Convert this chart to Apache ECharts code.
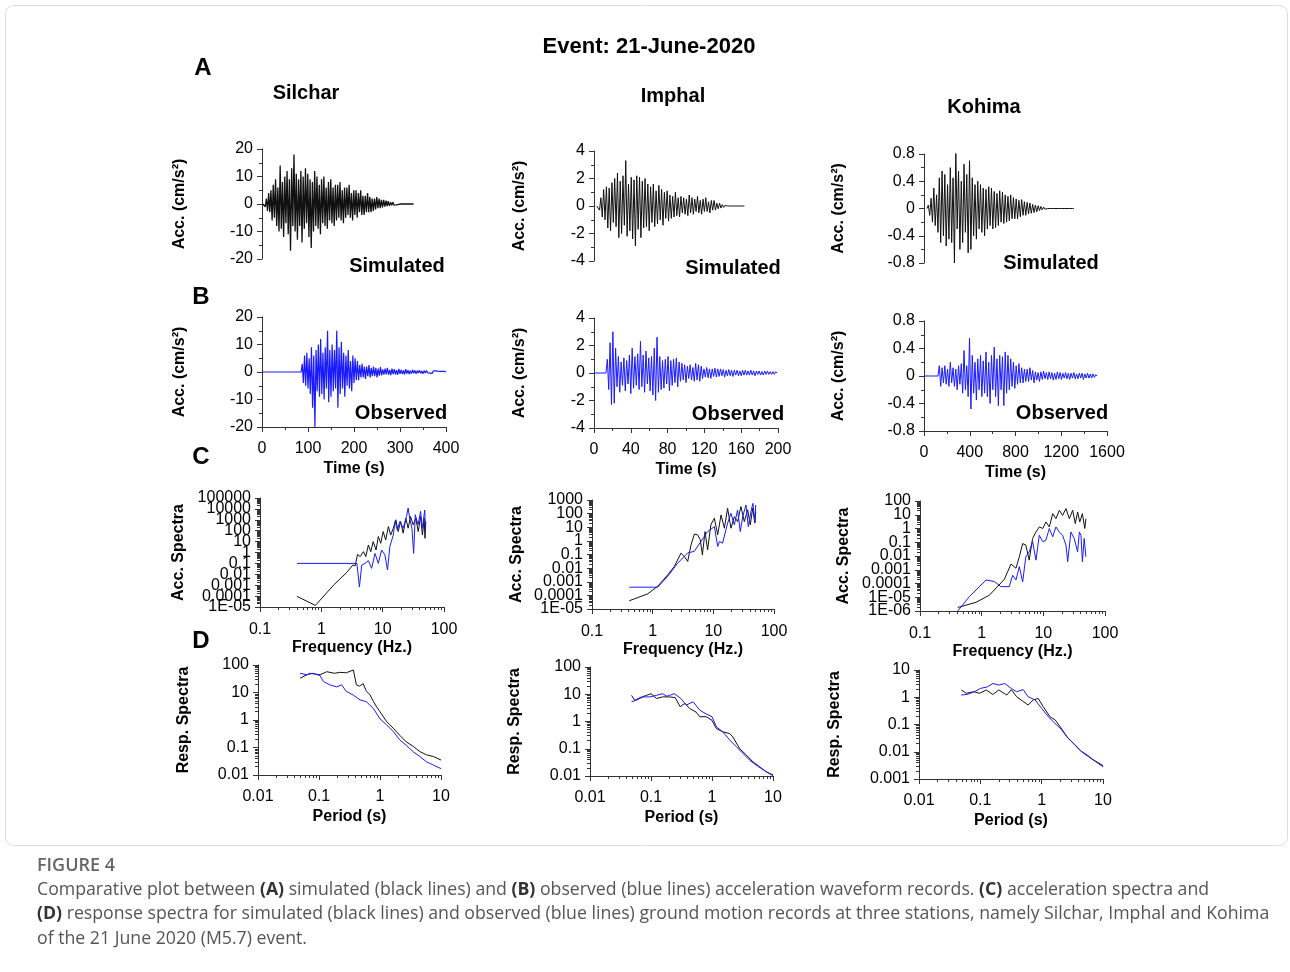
<!DOCTYPE html>
<html>
<head>
<meta charset="utf-8">
<script src="https://cdn.jsdelivr.net/npm/echarts@6/dist/echarts.min.js"></script>
<style>
html, body { margin: 0; padding: 0; background: #fff; }
#chart { width: 1290px; height: 972px; }
</style>
</head>
<body>
<div id="chart"></div>
<script>
var FONT = '"Liberation Sans", Arial, Helvetica, sans-serif';
var CAP_FONT = '"Open Sans", "Noto Sans", sans-serif';
var AXC = '#333';
var SIM = '#111';
var OBS = '#1a1aff';

var stations = ['Silchar', 'Imphal', 'Kohima'];

// ---- waveforms: amplitude (cm/s2) sampled from t0 every dt seconds ----
var silSimT0 = 2, silSimDt = 2.5;
var silSim = [0, 0.5, -1, 2, -2.5, 4, -3, 5,
  -6, 7, -5, 9, -8, 6, -10, 14,
  -9, 8, -12, 10, -7, 12, -11, 9,
  -17, 13, -8, 18, -10, 11, -13, 9,
  -8, 12, -14, 10, -9, 13, -7, 11,
  -12, 9, -16, 8, -10, 12, -8, 10,
  -9, 7, -11, 9, -7, 10, -8, 6,
  -9, 8, -6, 9, -7, 6, -8, 7,
  -6, 7, -5, 8, -6, 5, -7, 6,
  -5, 6, -4, 7, -5, 4, -6, 5,
  -4, 5, -5, 4, -3, 5, -4, 3,
  -4, 3, -3, 4, -3, 2.5, -3, 2,
  -2.5, 2, -2, 2.5, -1.5, 2, -1.5, 1.5,
  -1.2, 1.5, -1, 1.2, -0.8, 1, -0.7, 0.6,
  -0.5, 0.6, -0.4, 0.3, -0.3, 0.2, -0.1, 0.1,
  0, 0, 0, 0, 0, 0, 0, 0, 0, 0, 0, 0];

var imhSimT0 = 3, imhSimDt = 1.5;
var imhSim = [0, 0.1, -0.3, 0.6, -0.8, 1.2, -1, 1.4,
  -1.6, 1.3, -1.8, 1.7, -1.2, 2.0, -1.5, 2.4,
  -2.3, 1.8, -2.0, 2.2, -1.4, 3.3, -2.2, 1.6,
  -1.8, 2.1, -2.4, 1.9, -2.9, 2.2, -1.7, 2.1,
  -2.3, 1.8, -1.6, 2.0, -1.5, 1.6, -1.8, 1.4,
  -1.2, 1.6, -1.5, 1.1, -1.3, 1.5, -1.0, 1.2,
  -1.4, 1.0, -0.9, 1.1, -1.1, 0.8, -0.9, 0.7,
  -0.8, 1.0, -0.7, 0.6, -0.8, 0.7, -0.5, 0.6,
  -0.6, 0.5, -0.7, 0.8, -0.5, 0.6, -0.6, 0.5,
  -0.4, 0.7, -0.5, 0.4, -0.6, 0.5, -0.4, 0.6,
  -0.4, 0.3, -0.5, 0.4, -0.3, 0.4, -0.3, 0.2,
  -0.2, 0.2, -0.15, 0.1, -0.1, 0.05, -0.03, 0,
  0, 0, 0, 0, 0, 0, 0, 0, 0, 0, 0, 0];

var kohSimT0 = 26, kohSimDt = 12;
var kohSim = [0, 0.05, -0.1, 0.15, -0.2, 0.3, -0.25, 0.2,
  -0.35, 0.45, -0.5, 0.55, -0.4, 0.5, -0.55, 0.35,
  -0.45, 0.6, -0.5, 0.45, -0.8, 0.85, -0.3, 0.55,
  -0.6, 0.4, -0.5, 0.65, -0.35, 0.5, -0.65, 0.7,
  -0.6, 0.45, -0.4, 0.35, -0.45, 0.4, -0.3, 0.35,
  -0.35, 0.3, -0.4, 0.28, -0.3, 0.32, -0.25, 0.3,
  -0.3, 0.25, -0.28, 0.22, -0.25, 0.26, -0.2, 0.24,
  -0.22, 0.2, -0.2, 0.18, -0.18, 0.2, -0.15, 0.16,
  -0.15, 0.14, -0.15, 0.12, -0.12, 0.13, -0.1, 0.1,
  -0.1, 0.09, -0.08, 0.08, -0.07, 0.06, -0.06, 0.05,
  -0.05, 0.04, -0.03, 0.03, -0.02, 0.02, -0.01, 0.01,
  0, 0, 0, 0, 0, 0, 0, 0, 0, 0, 0, 0, 0, 0, 0, 0, 0, 0, 0, 0];

// observed records are flat (zero) before the trigger time t0
var silObsT0 = 85, silObsDt = 2.5;
var silObs = [0, 3, -4, 6, -5, 7, -6, 5,
  -8, 9, -13, 6, -20, 8, -7, 10,
  -9, 12, -8, 7, -10, 9, -6, 15,
  -11, 8, -9, 10, -7, 8, -6, 15,
  -13, 9, -8, 11, -6, 7, -9, 6,
  -5, 8, -6, 4, -7, 6, -4, 5,
  -3, 4, -3, 2.5, -2, 3, -2, 2,
  -2.5, 2, -1.5, 2.5, -2, 1.5, -1.5, 2,
  -1.5, 1.5, -2, 1.2, -1.3, 1.8, -1.2, 1,
  -1, 1.2, -0.9, 1.5, -1, 0.8, -1.1, 1.2,
  -0.8, 1, -0.9, 0.7, -1, 1.1, -0.7, 0.8,
  -0.8, 0.6, -0.9, 1, -0.6, 0.7, -0.8, 0.5,
  -0.6, 0.8, -0.5, 0.6, -0.7, 0.5, -0.4, 0.6,
  -0.5, 0.4, -0.6, 0.5, -0.4, 0.5, -0.3, 0.4,
  -0.4, 0.3, -0.5, 0.4, -0.3, 0.4, -0.3, 0.3,
  -0.3, 0.25, -0.3, 0.2, -0.2, 0.2, 0];

var imhObsT0 = 13, imhObsDt = 1.5;
var imhObs = [0, 1, -1.2, 2.2, -2.3, 3, -2.2, 1.8,
  -1, 1.2, -1.4, 0.8, -0.9, 1.1, -1.3, 0.9,
  -0.8, 1.3, -1.5, 1.8, -1.1, 1.2, -0.9, 1.4,
  -1.2, 2.3, -1.0, 1.3, -1.4, 1.6, -0.8, 1.1,
  -1.3, 1.2, -1.6, 1.8, -2.0, 2.6, -1.4, 1.2,
  -1.2, 0.9, -1.1, 1.0, -0.8, 1.2, -1.3, 0.9,
  -0.9, 1.0, -0.7, 1.1, -1.0, 0.8, -0.6, 0.7,
  -0.5, 0.6, -0.7, 0.5, -0.4, 0.6, -0.5, 0.4,
  -0.6, 0.7, -0.5, 0.6, -0.6, 0.5, -0.4, 0.3,
  -0.3, 0.4, -0.35, 0.3, -0.4, 0.3, -0.25, 0.35,
  -0.3, 0.3, -0.25, 0.3, -0.2, 0.25, -0.3, 0.2,
  -0.2, 0.25, -0.2, 0.2, -0.25, 0.2, -0.15, 0.2,
  -0.2, 0.15, -0.2, 0.2, -0.15, 0.2, -0.15, 0.15,
  -0.15, 0.2, -0.15, 0.15, -0.2, 0.15, -0.1, 0.15,
  -0.15, 0.1, -0.15, 0.15, -0.1, 0.15, -0.1, 0.1,
  -0.1, 0.1, -0.1, 0.1, 0];

var kohObsT0 = 122, kohObsDt = 12;
var kohObs = [0, 0.15, -0.15, 0.12, -0.1, 0.15, -0.12, 0.1,
  -0.15, 0.2, -0.1, 0.12, -0.15, 0.1, -0.2, 0.15,
  -0.12, 0.18, -0.25, 0.37, -0.2, 0.15, -0.3, 0.55,
  -0.48, 0.3, -0.25, 0.2, -0.35, 0.25, -0.2, 0.3,
  -0.3, 0.22, -0.25, 0.35, -0.3, 0.2, -0.4, 0.3,
  -0.2, 0.42, -0.3, 0.25, -0.43, 0.3, -0.2, 0.28,
  -0.43, 0.35, -0.25, 0.3, -0.2, 0.25, -0.15, 0.2,
  -0.18, 0.15, -0.12, 0.18, -0.1, 0.12, -0.1, 0.1,
  -0.08, 0.1, -0.08, 0.12, -0.06, 0.08, -0.1, 0.06,
  -0.06, 0.05, -0.08, 0.06, -0.05, 0.07, -0.04, 0.05,
  -0.05, 0.06, -0.04, 0.05, -0.06, 0.04, -0.05, 0.06,
  -0.04, 0.05, -0.05, 0.04, -0.03, 0.05, -0.04, 0.04,
  -0.05, 0.04, -0.03, 0.05, -0.04, 0.03, -0.04, 0.04,
  -0.03, 0.04, -0.05, 0.03, -0.03, 0.04, -0.03, 0.03,
  -0.03, 0.03, -0.02, 0.02, 0];

// ---- Fourier acceleration spectra: [frequency Hz, amplitude] ----
var silSimFas = [[0.4,9.5e-5],[0.8,1.4e-5],[1.58,1e-3],[2.6,0.015],[3.26,0.07],[3.56,0.06],[3.9,0.68],[4.3,0.42],
  [4.86,1.2],[5.3,0.42],[5.85,4.9],[6.4,1.2],[7.0,10],[7.8,1.7],[8.5,29],[9.3,7],[10.2,83],[11.2,14],
  [12.4,240],[13.5,40],[14.9,170],[16.4,1000],[17.9,83],[19.6,700],[21.6,59],[23.9,1400],[26,170],
  [28.5,2000],[31.4,350],[34.7,1400],[38,83],[41.5,2000],[44.5,40],[47.5,1400],[49,20],[50.5,700]];
var silObsFas = [[0.4,0.1],[3.8,0.1],[4.18,7e-4],[4.56,0.07],[5.17,0.1],[5.85,0.18],[6.6,0.035],[7.5,0.83],
  [8.5,0.1],[9.6,1.7],[10.9,0.6],[12,0.025],[13.1,3.5],[14.9,40],[15.9,700],[17.3,120],[19.1,700],
  [21.6,170],[24.5,2000],[26,12000],[27.6,1400],[30,170],[32,0.83],[34,2900],[37.8,350],[41.5,5900],
  [44.5,170],[48.5,8000],[50,80]];
var imhSimFas = [[0.41,4e-5],[0.83,1.3e-4],[1.21,4.6e-4],[1.77,3.2e-3],[2.27,0.013],[2.93,0.126],[3.33,0.07],
  [3.78,0.031],[4.29,0.51],[4.86,3.1],[5.5,2.8],[6.1,1.2],[6.6,0.095],[7.3,4.8],[8.05,0.22],[9.1,15],
  [10.4,46],[11.8,2.8],[13.4,80],[15.2,8.5],[17.2,245],[19.5,8.5],[22.2,60],[25.1,26],[28.5,330],
  [32.4,26],[36.8,190],[40.7,15],[44.5,245],[48.4,20],[50,140]];
var imhObsFas = [[0.41,4e-4],[1.21,4e-4],[1.77,2.5e-3],[2.58,0.023],[3.78,0.13],[4.86,0.17],[6.25,0.9],
  [8.05,4.8],[10.4,11],[11.8,0.39],[12.6,0.9],[14.2,0.68],[17.2,20],[19.5,105],[22.2,15],[25.1,185],
  [27.8,4.8],[30.5,60],[34.5,430],[37.7,11],[41.6,140],[44.9,570],[48.4,26],[50,430]];
var kohSimFas = [[0.41,1.8e-6],[0.81,4.3e-6],[1.33,1.4e-5],[2.33,2e-4],[2.99,2.6e-3],[3.6,1.3e-3],[4.08,8.7e-3],
  [4.62,0.08],[5.2,0.062],[5.9,5e-3],[6.7,0.19],[7.6,0.56],[8.6,1.3],[9.8,1],[11,3],[12.5,1.3],[14.2,12],
  [16,5.2],[18.2,21],[20.5,9],[23.3,28],[26.4,5.2],[29.9,21],[33,2.3],[36,16],[39,3],[43,12],[47,1],[49,5.2]];
var kohObsFas = [[0.41,1e-6],[0.63,1.1e-5],[1.18,1.8e-4],[1.6,1.4e-4],[2.06,5.9e-5],[2.8,5.9e-5],[3.18,4e-4],
  [3.6,1.8e-4],[4.08,1.7e-3],[4.62,1.3e-4],[5.2,8.7e-3],[5.9,0.02],[6.7,0.11],[7.6,5e-3],[8.6,0.32],
  [9.8,0.11],[11,0.14],[12.5,1],[14.2,0.25],[16,1.3],[18.2,0.56],[20.5,0.32],[23.3,0.062],[24.8,3.8e-3],
  [28,0.56],[31.7,0.19],[36,0.02],[38.4,0.56],[40.8,0.32],[43,3.8e-3],[46,0.19],[49,8.7e-3]];

// ---- response spectra: [period s, amplitude] ----
var silSimRsp = [[0.049,33],[0.071,50],[0.104,44],[0.134,57],[0.18,50],[0.22,54],[0.28,52],[0.366,66],
  [0.41,19],[0.46,17],[0.53,21],[0.6,11],[0.68,8.5],[0.78,4.7],[0.88,3],[1,2],[1.29,0.87],[1.65,0.5],
  [2.1,0.28],[2.7,0.16],[3.5,0.11],[4.5,0.071],[5.8,0.054],[7.5,0.047],[10,0.035]];
var silObsRsp = [[0.049,50],[0.063,44],[0.08,50],[0.104,41],[0.118,25],[0.15,19],[0.195,16],[0.235,19],
  [0.28,11],[0.366,8],[0.47,5.4],[0.6,4.6],[0.78,2.6],[1,1.1],[1.29,0.66],[1.65,0.38],[2.1,0.19],
  [2.7,0.12],[3.5,0.07],[4.5,0.047],[5.8,0.03],[7.5,0.023],[10,0.017]];
var imhSimRsp = [[0.048,9.1],[0.054,6],[0.066,7.5],[0.084,9.1],[0.1,10.5],[0.123,7],[0.155,8],[0.2,8],
  [0.25,7.5],[0.3,3.5],[0.36,4.6],[0.43,3],[0.55,2.2],[0.63,1.5],[0.8,1.5],[1,1.1],[1.18,0.55],[1.5,0.42],
  [1.95,0.36],[2.2,0.27],[2.85,0.1],[3.65,0.059],[4.7,0.033],[6,0.022],[7.8,0.014],[10,0.011]];
var imhObsRsp = [[0.048,5.3],[0.057,6],[0.074,8],[0.095,8],[0.123,9.1],[0.155,10.5],[0.18,8.5],[0.2,9],
  [0.24,10.5],[0.31,6.9],[0.38,4],[0.49,5.3],[0.63,2.6],[0.8,1.9],[1,1.5],[1.18,0.63],[1.5,0.42],
  [1.95,0.21],[2.5,0.12],[3.2,0.068],[4.1,0.039],[5.3,0.025],[6.9,0.017],[10,0.0102]];
var kohSimRsp = [[0.049,1.85],[0.059,1.4],[0.078,1.6],[0.097,1.4],[0.125,1.85],[0.16,1.26],[0.2,1.85],
  [0.27,1.2],[0.32,1.9],[0.39,1.05],[0.5,0.7],[0.6,0.52],[0.73,0.8],[0.88,0.9],[1.06,0.45],[1.37,0.19],
  [1.65,0.15],[2,0.083],[2.57,0.036],[3.3,0.02],[4.25,0.011],[5.5,0.0076],[7,0.005],[10,0.0031]];
var kohObsRsp = [[0.049,1.2],[0.063,1.3],[0.08,1.6],[0.1,2.1],[0.13,2.4],[0.16,3.2],[0.2,2.8],[0.25,3.2],
  [0.32,2.1],[0.39,1.6],[0.5,1.9],[0.6,1.05],[0.78,0.8],[1,0.39],[1.29,0.19],[1.65,0.11],[2.13,0.063],
  [2.7,0.031],[3.5,0.018],[4.5,0.01],[5.8,0.0066],[7.5,0.0044],[10,0.0028]];

// ---- layout (pixels) ----
var grids = [
  {left: 262, top: 149, width: 184, height: 110},
  {left: 594, top: 151, width: 184, height: 110},
  {left: 924, top: 154, width: 183, height: 109},
  {left: 262, top: 317, width: 184, height: 110},
  {left: 594, top: 318, width: 184, height: 110},
  {left: 924, top: 321, width: 183, height: 110},
  {left: 260, top: 498, width: 184, height: 109},
  {left: 592, top: 500, width: 182, height: 109},
  {left: 920, top: 501, width: 185, height: 110},
  {left: 258, top: 665, width: 183, height: 110},
  {left: 590, top: 667, width: 183, height: 109},
  {left: 919, top: 670, width: 184, height: 109}
];

var chart = echarts.init(document.getElementById('chart'));

function wave(t0, dt, vals, fromZero) {
  var d = fromZero ? [[0, 0]] : [];
  vals.forEach(function (v, i) { d.push([+(t0 + i * dt).toFixed(2), v]); });
  return d;
}

function logLabel(v) {
  var e = Math.round(Math.log10(v));
  if (e >= 0) return String(Math.pow(10, e));
  if (e >= -4) return Math.pow(10, e).toFixed(-e);
  return '1E-' + (-e < 10 ? '0' : '') + (-e);
}

function plainLabel(v) { return String(+v.toFixed(4)); }

function axis(o) {
  var isLog = o.type === 'log';
  var a = {
    type: o.type || 'value',
    gridIndex: o.grid,
    min: o.min, max: o.max,
    show: o.show !== false,
    axisLine: {show: true, onZero: false, lineStyle: {color: AXC, width: 1}},
    axisTick: {show: true, length: 5, lineStyle: {color: AXC}},
    minorTick: {show: true, splitNumber: isLog ? 9 : 2, length: 3, lineStyle: {color: AXC}},
    splitLine: {show: false},
    minorSplitLine: {show: false},
    axisLabel: {fontSize: 16, color: '#000', fontFamily: FONT, margin: o.margin || 9,
      interval: 0, showMinLabel: true, showMaxLabel: true, hideOverlap: false,
      formatter: isLog ? logLabel : plainLabel},
    name: o.name || '',
    nameLocation: 'middle',
    nameGap: o.gap || 30,
    nameTextStyle: {fontSize: 16, fontWeight: 'bold', color: '#000', fontFamily: FONT}
  };
  if (isLog) {
    a.logBase = 10;
    a.interval = 1;
  } else {
    a.interval = o.interval;
  }
  return a;
}

// the crowded spectra axes drop the labels next to their end labels,
// so a label-only twin axis on the same grid puts those two back
function twinLabels(grid, min, max) {
  var a = axis({grid: grid, type: 'log', min: min, max: max});
  var lo = Math.round(Math.log10(min)) + 1, hi = Math.round(Math.log10(max)) - 1;
  a.position = 'left';
  a.offset = 0;
  a.axisLine = {show: false, onZero: false};
  a.axisTick = {show: false};
  a.minorTick = {show: false};
  a.axisLabel.showMinLabel = false;
  a.axisLabel.showMaxLabel = false;
  a.axisLabel.formatter = function (v) {
    var e = Math.round(Math.log10(v));
    return (e === lo || e === hi) ? logLabel(v) : '';
  };
  return a;
}

var ACC = 'Acc. (cm/s\u00b2)';
var xAxes = [
  axis({grid: 0, min: 0, max: 400, interval: 100, show: false}),
  axis({grid: 1, min: 0, max: 200, interval: 40, show: false}),
  axis({grid: 2, min: 0, max: 1600, interval: 400, show: false}),
  axis({grid: 3, min: 0, max: 400, interval: 100, name: 'Time (s)', gap: 34, margin: 14}),
  axis({grid: 4, min: 0, max: 200, interval: 40, name: 'Time (s)', gap: 34, margin: 14}),
  axis({grid: 5, min: 0, max: 1600, interval: 400, name: 'Time (s)', gap: 34, margin: 14}),
  axis({grid: 6, type: 'log', min: 0.1, max: 100, name: 'Frequency (Hz.)', gap: 33, margin: 15}),
  axis({grid: 7, type: 'log', min: 0.1, max: 100, name: 'Frequency (Hz.)', gap: 33, margin: 15}),
  axis({grid: 8, type: 'log', min: 0.1, max: 100, name: 'Frequency (Hz.)', gap: 33, margin: 15}),
  axis({grid: 9, type: 'log', min: 0.01, max: 10, name: 'Period (s)', gap: 34, margin: 14}),
  axis({grid: 10, type: 'log', min: 0.01, max: 10, name: 'Period (s)', gap: 34, margin: 14}),
  axis({grid: 11, type: 'log', min: 0.01, max: 10, name: 'Period (s)', gap: 34, margin: 14})
];
var yAxes = [
  axis({grid: 0, min: -20, max: 20, interval: 10, name: ACC, gap: 74}),
  axis({grid: 1, min: -4, max: 4, interval: 2, name: ACC, gap: 66}),
  axis({grid: 2, min: -0.8, max: 0.8, interval: 0.4, name: ACC, gap: 77}),
  axis({grid: 3, min: -20, max: 20, interval: 10, name: ACC, gap: 74}),
  axis({grid: 4, min: -4, max: 4, interval: 2, name: ACC, gap: 66}),
  axis({grid: 5, min: -0.8, max: 0.8, interval: 0.4, name: ACC, gap: 77}),
  axis({grid: 6, type: 'log', min: 1e-5, max: 1e5, name: 'Acc. Spectra', gap: 73}),
  axis({grid: 7, type: 'log', min: 1e-5, max: 1e3, name: 'Acc. Spectra', gap: 67}),
  axis({grid: 8, type: 'log', min: 1e-6, max: 1e2, name: 'Acc. Spectra', gap: 68}),
  axis({grid: 9, type: 'log', min: 0.01, max: 100, name: 'Resp. Spectra', gap: 66}),
  axis({grid: 10, type: 'log', min: 0.01, max: 100, name: 'Resp. Spectra', gap: 67}),
  axis({grid: 11, type: 'log', min: 0.001, max: 10, name: 'Resp. Spectra', gap: 76}),
  twinLabels(6, 1e-5, 1e5),
  twinLabels(7, 1e-5, 1e3),
  twinLabels(8, 1e-6, 1e2)
];

function line(idx, data, color, width) {
  return {
    type: 'line', xAxisIndex: idx, yAxisIndex: idx, data: data,
    showSymbol: false, symbol: 'none', silent: true,
    lineStyle: {color: color, width: width || 1}
  };
}

var series = [
  line(0, wave(silSimT0, silSimDt, silSim), SIM, 1.3),
  line(1, wave(imhSimT0, imhSimDt, imhSim), SIM),
  line(2, wave(kohSimT0, kohSimDt, kohSim), SIM),
  line(3, wave(silObsT0, silObsDt, silObs, true), OBS, 1.2),
  line(4, wave(imhObsT0, imhObsDt, imhObs, true), OBS),
  line(5, wave(kohObsT0, kohObsDt, kohObs, true), OBS),
  line(6, silSimFas, SIM), line(6, silObsFas, OBS),
  line(7, imhSimFas, SIM), line(7, imhObsFas, OBS),
  line(8, kohSimFas, SIM), line(8, kohObsFas, OBS),
  line(9, silSimRsp, SIM), line(9, silObsRsp, OBS),
  line(10, imhSimRsp, SIM), line(10, imhObsRsp, OBS),
  line(11, kohSimRsp, SIM), line(11, kohObsRsp, OBS)
];

function txt(x, y, text, size, extra) {
  var s = {
    text: text, x: x, y: y,
    font: 'bold ' + size + 'px ' + FONT,
    fill: '#000', textAlign: 'center', textVerticalAlign: 'middle',
    align: 'center', verticalAlign: 'middle'
  };
  return {type: 'text', silent: true, style: Object.assign(s, extra || {})};
}

var stationPos = [[306, 93], [673, 96], [984, 107]];
var simPos = [[397, 266], [733, 268], [1051, 263]];
var obsPos = [[401, 413], [738, 414], [1062, 413]];

var graphics = [
  {type: 'rect', silent: true, shape: {x: 5.5, y: 5.5, width: 1282, height: 840, r: 8},
   style: {fill: 'none', stroke: '#dcdcdc', lineWidth: 1}},
  txt(649, 47, 'Event: 21-June-2020', 22),
  txt(203, 68, 'A', 24), txt(201, 297, 'B', 24), txt(201, 457, 'C', 24), txt(201, 641, 'D', 24)
];
stations.forEach(function (s, i) {
  graphics.push(txt(stationPos[i][0], stationPos[i][1], s, 20));
  graphics.push(txt(simPos[i][0], simPos[i][1], 'Simulated', 20));
  graphics.push(txt(obsPos[i][0], obsPos[i][1], 'Observed', 20));
});

var CAP_SIZE = 17.7;
var capRich = {b: {fontWeight: 'bold', fill: '#333', color: '#333', fontFamily: CAP_FONT, fontSize: CAP_SIZE}};
function cap(y, text) {
  return {type: 'text', silent: true, style: {
    text: text, x: 37, y: y, font: CAP_SIZE + 'px ' + CAP_FONT, fill: '#555',
    textAlign: 'left', textVerticalAlign: 'middle', align: 'left', verticalAlign: 'middle',
    rich: capRich
  }};
}
graphics.push({type: 'text', silent: true, style: {
  text: 'FIGURE 4', x: 37, y: 866, font: '600 18px ' + CAP_FONT, fill: '#666',
  textAlign: 'left', textVerticalAlign: 'middle', align: 'left', verticalAlign: 'middle'
}});
graphics.push(cap(890, 'Comparative plot between {b|(A)} simulated (black lines) and {b|(B)} observed (blue lines) acceleration waveform records. {b|(C)} acceleration spectra and'));
graphics.push(cap(914, '{b|(D)} response spectra for simulated (black lines) and observed (blue lines) ground motion records at three stations, namely Silchar, Imphal and Kohima'));
graphics.push(cap(939, 'of the 21 June 2020 (M5.7) event.'));

chart.setOption({
  backgroundColor: '#fff',
  animation: false,
  grid: grids.map(function (g) {
    return Object.assign({containLabel: false, outerBoundsMode: 'none'}, g);
  }),
  xAxis: xAxes,
  yAxis: yAxes,
  series: series,
  graphic: graphics
});
</script>
</body>
</html>
